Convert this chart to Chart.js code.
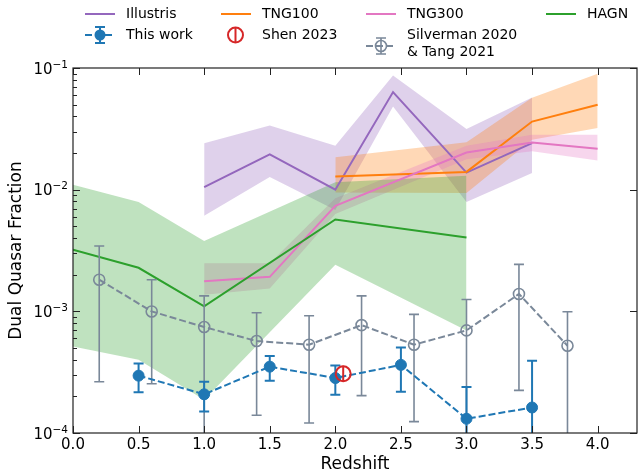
<!DOCTYPE html>
<html>
<head>
<meta charset="utf-8">
<script src="https://cdn.jsdelivr.net/npm/chart.js@4.4.1/dist/chart.umd.min.js"></script>
<style>
  html, body { margin: 0; padding: 0; background: #fff; }
  canvas { display: block; }
</style>
</head>
<body>
<canvas id="chart" width="639" height="472"></canvas>
<script>
// ── Data ─────────────────────────────────────────────────────────────────────
const xTicks  = [0, 0.5, 1, 1.5, 2, 2.5, 3, 3.5, 4];
const yDecades = [-4, -3, -2, -1];

// This work
const workX  = [0.5, 1.0, 1.5, 2.0, 2.5, 3.0, 3.5];
const workY  = [2.96e-4, 2.08e-4, 3.51e-4, 2.83e-4, 3.63e-4, 1.31e-4, 1.62e-4];
const workHi = [3.72e-4, 2.64e-4, 4.30e-4, 3.59e-4, 5.05e-4, 2.39e-4, 3.93e-4];
const workLo = [2.16e-4, 1.50e-4, 2.69e-4, 2.06e-4, 2.18e-4, 5e-5, 5e-5];

// Silverman 2020 & Tang 2021
const silvX  = [0.2, 0.6, 1.0, 1.4, 1.8, 2.2, 2.6, 3.0, 3.4, 3.77];
const silvY  = [1.82e-3, 9.98e-4, 7.43e-4, 5.70e-4, 5.32e-4, 7.71e-4, 5.32e-4, 6.97e-4, 1.39e-3, 5.21e-4];
const silvHi = [3.44e-3, 1.82e-3, 1.34e-3, 9.74e-4, 9.20e-4, 1.34e-3, 9.44e-4, 1.25e-3, 2.43e-3, 9.93e-4];
const silvLo = [2.64e-4, 2.54e-4, 5e-5, 1.40e-4, 1.21e-4, 2.03e-4, 1.24e-4, 5e-5, 2.24e-4, 5e-5];

// Shen 2023
const shenX  = [2.06];
const shenY  = [3.07e-4];
const shenHi = [3.57e-4];
const shenLo = [2.64e-4];

// Illustris
const illX  = [1.0, 1.5, 2.0, 2.44, 3.0, 3.5];
const illY  = [1.05e-2, 1.95e-2, 1.00e-2, 6.34e-2, 1.38e-2, 2.41e-2];
const illHi = [2.41e-2, 3.37e-2, 2.30e-2, 8.68e-2, 3.15e-2, 5.72e-2];
const illLo = [6.1e-3, 1.27e-2, 6.8e-3, 4.83e-2, 7.9e-3, 1.37e-2];

// TNG100
const t100X  = [2.0, 3.0, 3.5, 4.0];
const t100Y  = [1.28e-2, 1.40e-2, 3.63e-2, 4.99e-2];
const t100Hi = [1.85e-2, 2.45e-2, 5.70e-2, 8.96e-2];
const t100Lo = [9.5e-3, 9.4e-3, 2.57e-2, 3.21e-2];

// TNG300
const t300X  = [1.0, 1.5, 2.0, 3.0, 3.5, 4.0];
const t300Y  = [1.77e-3, 1.92e-3, 7.38e-3, 2.02e-2, 2.44e-2, 2.17e-2];
const t300Hi = [2.49e-3, 2.49e-3, 8.5e-3, 2.30e-2, 2.83e-2, 2.83e-2];
const t300Lo = [1.37e-3, 1.54e-3, 6.3e-3, 1.78e-2, 2.07e-2, 1.74e-2];

// HAGN
const hagnX  = [0.0, 0.5, 1.0, 2.0, 3.0];
const hagnY  = [3.21e-3, 2.28e-3, 1.10e-3, 5.69e-3, 4.05e-3];
const hagnHi = [1.10e-2, 7.9e-3, 3.78e-3, 1.15e-2, 1.30e-2];
const hagnLo = [5.15e-4, 4.0e-4, 1.88e-4, 2.41e-3, 6.97e-4];

// ── Styles ───────────────────────────────────────────────────────────────────
const C = {
  blue:   "#1f77b4",
  orange: "#ff7f0e",
  green:  "#2ca02c",
  red:    "#d62728",
  purple: "#9467bd",
  pink:   "#e377c2",
  grey:   "#7a8899",
};
const FONT = "'DejaVu Sans', sans-serif";

function pts(xs, ys) {
  return xs.map((x, i) => ({ x, y: ys[i] }));
}

function alpha(hex, a) {
  const n = parseInt(hex.slice(1), 16);
  return `rgba(${n >> 16},${(n >> 8) & 255},${n & 255},${a})`;
}

function band(xs, lo, hi, color) {
  return [
    { data: pts(xs, lo), borderWidth: 0, borderColor: "transparent", pointRadius: 0, fill: false },
    { data: pts(xs, hi), borderWidth: 0, borderColor: "transparent", pointRadius: 0, fill: "-1",
      backgroundColor: alpha(color, 0.3) },
  ];
}

function line(xs, ys, color) {
  return { data: pts(xs, ys), borderColor: color, borderWidth: 2, pointRadius: 0, fill: false };
}

// bottom-to-top drawing order
const datasets = [
  ...band(illX, illLo, illHi, C.purple),
  ...band(t100X, t100Lo, t100Hi, C.orange),
  ...band(t300X, t300Lo, t300Hi, C.pink),
  ...band(hagnX, hagnLo, hagnHi, C.green),
  line(illX, illY, C.purple),
  line(t100X, t100Y, C.orange),
  line(t300X, t300Y, C.pink),
  line(hagnX, hagnY, C.green),
  {
    data: pts(silvX, silvY), borderColor: C.grey, borderWidth: 2, borderDash: [7, 3],
    pointRadius: 5.5, pointBorderWidth: 1.6, pointBorderColor: C.grey,
    pointBackgroundColor: "rgba(0,0,0,0)", fill: false,
    errLo: silvLo, errHi: silvHi, errColor: C.grey, errWidth: 1.6, cap: 5,
  },
  {
    data: pts(workX, workY), borderColor: C.blue, borderWidth: 2, borderDash: [7, 3],
    pointRadius: 5.5, pointBorderWidth: 1, pointBorderColor: C.blue,
    pointBackgroundColor: C.blue, fill: false,
    errLo: workLo, errHi: workHi, errColor: C.blue, errWidth: 2, cap: 5,
  },
  {
    data: pts(shenX, shenY), showLine: false,
    pointRadius: 7.5, pointBorderWidth: 2, pointBorderColor: C.red,
    pointBackgroundColor: "rgba(0,0,0,0)",
    errLo: shenLo, errHi: shenHi, errColor: C.red, errWidth: 2, cap: 0,
  },
];
datasets.forEach((d, i) => { d.order = datasets.length - i; d.tension = 0; });

// ── Plugins ──────────────────────────────────────────────────────────────────
const errorBars = {
  id: "errorBars",
  beforeDatasetDraw(chart, args) {
    const ds = chart.data.datasets[args.index];
    if (!ds.errLo) return;
    const { ctx, chartArea: a, scales: { x, y } } = chart;
    ctx.save();
    ctx.beginPath();
    ctx.rect(a.left, a.top, a.right - a.left, a.bottom - a.top);
    ctx.clip();
    ctx.strokeStyle = ds.errColor;
    ctx.lineWidth = ds.errWidth;
    ds.data.forEach((p, i) => {
      const px = x.getPixelForValue(p.x);
      const yl = y.getPixelForValue(ds.errLo[i]);
      const yh = y.getPixelForValue(ds.errHi[i]);
      ctx.beginPath();
      ctx.moveTo(px, yl); ctx.lineTo(px, yh);
      if (ds.cap) {
        ctx.moveTo(px - ds.cap, yl); ctx.lineTo(px + ds.cap, yl);
        ctx.moveTo(px - ds.cap, yh); ctx.lineTo(px + ds.cap, yh);
      }
      ctx.stroke();
    });
    ctx.restore();
  },
};

function legendMarker(ctx, cx, cy, color, kind) {
  ctx.save();
  ctx.strokeStyle = color;
  ctx.lineWidth = 2;
  if (kind !== "shen") {
    ctx.setLineDash([7, 3]);
    ctx.beginPath(); ctx.moveTo(cx - 15, cy); ctx.lineTo(cx + 15, cy); ctx.stroke();
    ctx.setLineDash([]);
    ctx.lineWidth = kind === "work" ? 2 : 1.6;
    ctx.beginPath();
    ctx.moveTo(cx, cy - 8); ctx.lineTo(cx, cy + 8);
    ctx.moveTo(cx - 5, cy - 8); ctx.lineTo(cx + 5, cy - 8);
    ctx.moveTo(cx - 5, cy + 8); ctx.lineTo(cx + 5, cy + 8);
    ctx.stroke();
    ctx.beginPath(); ctx.arc(cx, cy, 5.5, 0, Math.PI * 2);
    if (kind === "work") { ctx.fillStyle = color; ctx.fill(); }
    else { ctx.lineWidth = 1.6; ctx.stroke(); }
  } else {
    ctx.beginPath(); ctx.arc(cx, cy, 7.5, 0, Math.PI * 2); ctx.stroke();
    ctx.beginPath(); ctx.moveTo(cx, cy - 8); ctx.lineTo(cx, cy + 8); ctx.stroke();
  }
  ctx.restore();
}

const frame = {
  id: "frame",
  afterDraw(chart) {
    const { ctx, chartArea: a, scales: { x, y } } = chart;
    ctx.save();
    ctx.strokeStyle = "#222";
    ctx.lineWidth = 1;

    // inward ticks
    ctx.beginPath();
    xTicks.forEach((v) => {
      const px = Math.round(x.getPixelForValue(v)) + 0.5;
      ctx.moveTo(px, a.bottom); ctx.lineTo(px, a.bottom - 7);
      ctx.moveTo(px, a.top);    ctx.lineTo(px, a.top + 7);
    });
    yDecades.forEach((d) => {
      const py = Math.round(y.getPixelForValue(Math.pow(10, d))) + 0.5;
      ctx.moveTo(a.left, py);  ctx.lineTo(a.left + 7, py);
      ctx.moveTo(a.right, py); ctx.lineTo(a.right - 7, py);
      if (d === yDecades[yDecades.length - 1]) return;
      for (let k = 2; k <= 9; k++) {
        const pm = Math.round(y.getPixelForValue(k * Math.pow(10, d))) + 0.5;
        ctx.moveTo(a.left, pm); ctx.lineTo(a.left + 4, pm);
      }
    });
    ctx.stroke();

    // spines
    ctx.lineWidth = 1.2;
    ctx.strokeRect(a.left, a.top, a.right - a.left, a.bottom - a.top);

    // x tick labels
    ctx.fillStyle = "#000";
    ctx.font = `15px ${FONT}`;
    ctx.textAlign = "center";
    ctx.textBaseline = "middle";
    xTicks.forEach((v) => {
      ctx.fillText(v.toFixed(1), x.getPixelForValue(v), a.bottom + 12);
    });

    // y tick labels as 10^n
    ctx.textAlign = "right";
    ctx.textBaseline = "alphabetic";
    yDecades.forEach((d) => {
      const py = y.getPixelForValue(Math.pow(10, d));
      const exp = "\u2212" + Math.abs(d);
      ctx.font = `10.5px ${FONT}`;
      const w = ctx.measureText(exp).width;
      ctx.fillText(exp, a.left - 5, py - 0.5);
      ctx.font = `15px ${FONT}`;
      ctx.fillText("10", a.left - 5 - w, py + 5.5);
    });

    // axis titles
    ctx.font = `17px ${FONT}`;
    ctx.textAlign = "center";
    ctx.textBaseline = "middle";
    ctx.fillText("Redshift", (a.left + a.right) / 2, 465);
    ctx.save();
    ctx.translate(17, (a.top + a.bottom) / 2);
    ctx.rotate(-Math.PI / 2);
    ctx.fillText("Dual Quasar Fraction", 0, 0);
    ctx.restore();

    // legend
    ctx.font = `14px ${FONT}`;
    ctx.textAlign = "left";
    const row1 = [["Illustris", C.purple, 85], ["TNG100", C.orange, 221],
                  ["TNG300", C.pink, 366], ["HAGN", C.green, 546]];
    row1.forEach(([label, color, lx]) => {
      ctx.strokeStyle = color; ctx.lineWidth = 2;
      ctx.beginPath(); ctx.moveTo(lx, 14); ctx.lineTo(lx + 30, 14); ctx.stroke();
      ctx.fillText(label, lx + 41, 14);
    });
    legendMarker(ctx, 100, 35, C.blue, "work");
    ctx.fillText("This work", 126, 35);
    legendMarker(ctx, 235.5, 35, C.red, "shen");
    ctx.fillText("Shen 2023", 262, 35);
    legendMarker(ctx, 381, 46, C.grey, "silv");
    ctx.fillText("Silverman 2020", 407, 35);
    ctx.fillText("& Tang 2021", 407, 52);
    ctx.restore();
  },
};

// ── Chart ────────────────────────────────────────────────────────────────────
new Chart(document.getElementById("chart"), {
  type: "line",
  data: { datasets },
  plugins: [errorBars, frame],
  options: {
    responsive: false,
    animation: false,
    events: [],
    layout: { autoPadding: false, padding: { top: 68, right: 2, left: 0, bottom: 0 } },
    plugins: {
      legend: { display: false },
      tooltip: { enabled: false },
      filler: { propagate: false, drawTime: "beforeDatasetsDraw" },
    },
    scales: {
      x: {
        type: "linear",
        min: 0,
        max: 4.3,
        grid: { display: false, drawTicks: false },
        border: { display: false },
        afterFit: (s) => { s.height = 39; },
        ticks: { display: false },
      },
      y: {
        type: "logarithmic",
        min: 1e-4,
        max: 1e-1,
        grid: { display: false, drawTicks: false },
        border: { display: false },
        afterFit: (s) => { s.width = 73; },
        ticks: { display: false },
      },
    },
  },
});
</script>
</body>
</html>
